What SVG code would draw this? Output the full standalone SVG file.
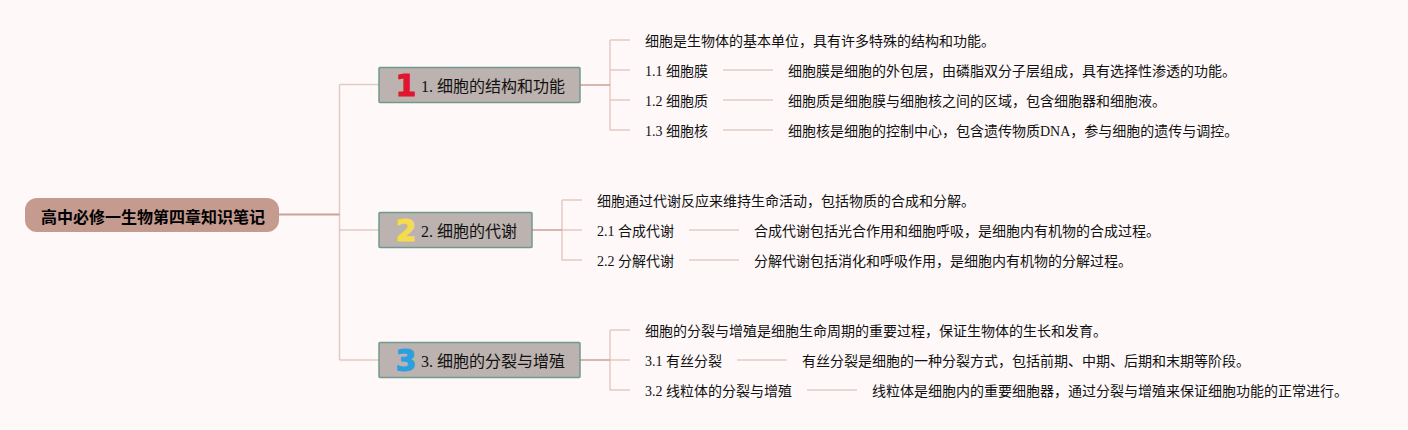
<svg xmlns="http://www.w3.org/2000/svg" width="1408" height="430" viewBox="0 0 1408 430">
<style>
text{font-family:"Liberation Serif","Noto Sans CJK SC",serif;fill:#111;dominant-baseline:central}
.t{font-size:14px}
.b{font-size:16px}
.r{font-size:16px;font-weight:700;font-family:"Noto Sans CJK SC",sans-serif;fill:#000}
.n{font-size:30px;font-weight:700;font-family:"DejaVu Sans",sans-serif;text-anchor:middle;stroke-width:1;stroke-linejoin:round}
.bx{fill:#bcb2af;stroke:#6f9a8d;stroke-width:1.5}
.c1{fill:none;stroke:#e3c9c3;stroke-width:1.5}
.c0{fill:none;stroke:#c9a197;stroke-width:2}
.c2{fill:none;stroke:#c9a197;stroke-width:1.5}
.c3{fill:none;stroke:#e0cdc8;stroke-width:1.5}
</style>
<rect width="1408" height="430" fill="#fef8f8"/>
<g id="connectors">
<path class="c1" d="M339.500 84.500H379M339.500 84.500V360M339.500 230H379M339.500 360H379"/>
<path class="c0" d="M279 214.500H339.500"/>
<path class="c1" d="M610 40H630M610 40V130H630M610 70H630M610 100H630"/>
<path class="c2" d="M580 85H610"/>
<path class="c1" d="M562 200H582M562 200V260H582M562 230H582"/>
<path class="c2" d="M532 230H562"/>
<path class="c1" d="M610 330H630M610 330V390H630M610 360H630"/>
<path class="c2" d="M580 360H610"/>
<path class="c3" d="M723 70H773M723 100H773M723 130H773M689 230H739M689 260H739M737 360H787M807 390H857"/>
</g>
<g id="root"><rect x="25" y="198" width="254" height="34" rx="12" fill="#c59a8f"/><text class="r" x="41" y="215.500">高中必修一生物第四章知识笔记</text></g>
<g id="b1"><rect class="bx" x="379" y="67.500" width="201" height="35" rx="1"/><text class="n" x="406" y="85.500" fill="#e0152f" stroke="#e0152f" style="fill:#e0152f">1</text><text class="b" x="421" y="86">1. 细胞的结构和功能</text></g>
<g id="b2"><rect class="bx" x="379" y="212.500" width="153" height="35" rx="1"/><text class="n" x="406" y="230.500" stroke="#f5dc4c" style="fill:#f5dc4c">2</text><text class="b" x="421" y="231">2. 细胞的代谢</text></g>
<g id="b3"><rect class="bx" x="379" y="342.500" width="201" height="35" rx="1"/><text class="n" x="406" y="360.500" stroke="#2aa0e0" style="fill:#2aa0e0">3</text><text class="b" x="421" y="361">3. 细胞的分裂与增殖</text></g>
<g id="n1-0"><text class="t" x="645" y="41">细胞是生物体的基本单位，具有许多特殊的结构和功能。</text></g>
<g id="n1-1"><text class="t" x="645" y="71">1.1 细胞膜</text></g>
<g id="n1-1d"><text class="t" x="788" y="71">细胞膜是细胞的外包层，由磷脂双分子层组成，具有选择性渗透的功能。</text></g>
<g id="n1-2"><text class="t" x="645" y="101">1.2 细胞质</text></g>
<g id="n1-2d"><text class="t" x="788" y="101">细胞质是细胞膜与细胞核之间的区域，包含细胞器和细胞液。</text></g>
<g id="n1-3"><text class="t" x="645" y="131">1.3 细胞核</text></g>
<g id="n1-3d"><text class="t" x="788" y="131">细胞核是细胞的控制中心，包含遗传物质DNA，参与细胞的遗传与调控。</text></g>
<g id="n2-0"><text class="t" x="597" y="201">细胞通过代谢反应来维持生命活动，包括物质的合成和分解。</text></g>
<g id="n2-1"><text class="t" x="597" y="231">2.1 合成代谢</text></g>
<g id="n2-1d"><text class="t" x="754" y="231">合成代谢包括光合作用和细胞呼吸，是细胞内有机物的合成过程。</text></g>
<g id="n2-2"><text class="t" x="597" y="261">2.2 分解代谢</text></g>
<g id="n2-2d"><text class="t" x="754" y="261">分解代谢包括消化和呼吸作用，是细胞内有机物的分解过程。</text></g>
<g id="n3-0"><text class="t" x="645" y="331">细胞的分裂与增殖是细胞生命周期的重要过程，保证生物体的生长和发育。</text></g>
<g id="n3-1"><text class="t" x="645" y="361">3.1 有丝分裂</text></g>
<g id="n3-1d"><text class="t" x="802" y="361">有丝分裂是细胞的一种分裂方式，包括前期、中期、后期和末期等阶段。</text></g>
<g id="n3-2"><text class="t" x="645" y="391">3.2 线粒体的分裂与增殖</text></g>
<g id="n3-2d"><text class="t" x="872" y="391">线粒体是细胞内的重要细胞器，通过分裂与增殖来保证细胞功能的正常进行。</text></g>
</svg>
